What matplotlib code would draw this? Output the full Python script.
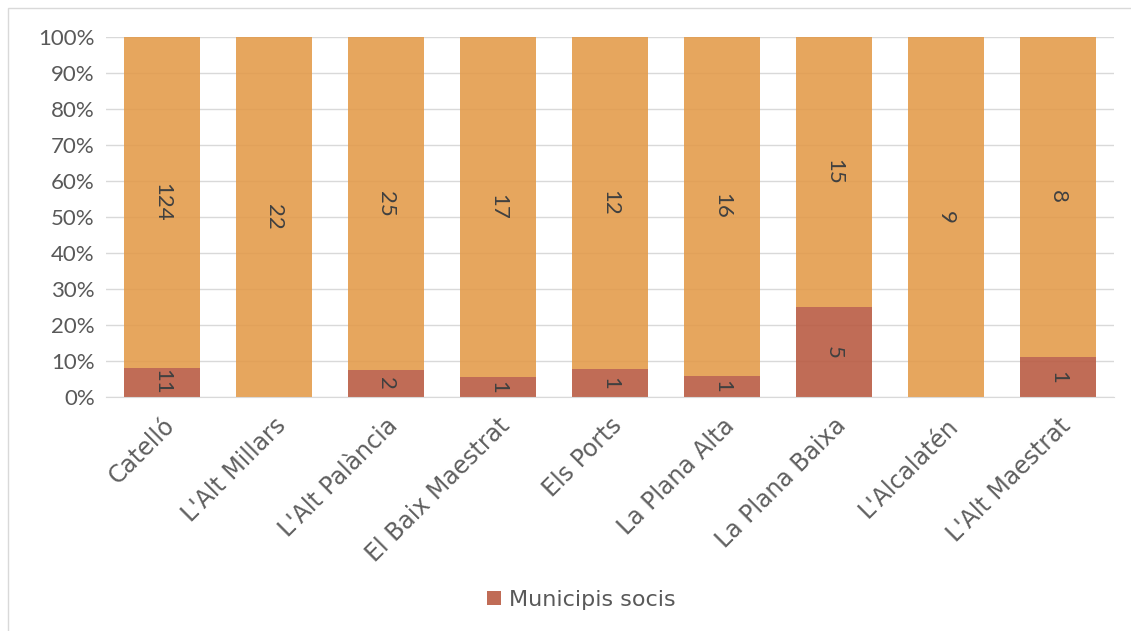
import matplotlib.pyplot as plt
import numpy as np

plt.rcParams['font.family'] = ['Lato', 'DejaVu Sans']

comarques = ['Catelló', "L'Alt Millars", "L'Alt Palància", 'El Baix Maestrat', 'Els Ports',
             'La Plana Alta', 'La Plana Baixa', "L'Alcalatén", "L'Alt Maestrat"]
socis = np.array([11, 0, 2, 1, 1, 1, 5, 0, 1])
no_socis = np.array([124, 22, 25, 17, 12, 16, 15, 9, 8])

total = socis + no_socis
p_socis = socis / total * 100
p_no = no_socis / total * 100

fig = plt.figure(figsize=(11.31, 6.31), dpi=100)
ax = fig.add_axes([106/1131, 1 - 397/631, 1008/1131, 360/631])

x = np.arange(len(comarques))
w = 0.67
b1 = ax.bar(x, p_socis, w, color='#B8583F', alpha=0.88, label='Municipis socis', zorder=2)
b2 = ax.bar(x, p_no, w, bottom=p_socis, color='#E39A48', alpha=0.88, zorder=2)

txt = '#404040'
for i in range(len(x)):
    if socis[i] > 0:
        ax.text(x[i], p_socis[i] / 2, str(socis[i]), rotation=-90, ha='center', va='center',
                fontsize=16, color=txt, zorder=3)
    ax.text(x[i], p_socis[i] + p_no[i] / 2, str(no_socis[i]), rotation=-90, ha='center',
            va='center', fontsize=16, color=txt, zorder=3)

ax.set_xlim(-0.5, len(x) - 0.5)
ax.set_ylim(0, 100)
ax.set_yticks(np.arange(0, 101, 10))
ax.set_yticklabels([f'{v}%' for v in range(0, 101, 10)], fontsize=16, color='#595959')
ax.set_xticks(x)
ax.set_xticklabels(comarques, rotation=45, ha='right', rotation_mode='anchor',
                   fontsize=17, color='#5f5f5f', family='DejaVu Sans')
ax.tick_params(axis='both', length=0, pad=8)
ax.tick_params(axis='x', pad=12)
ax.yaxis.grid(True, color='#D9D9D9', linewidth=1, zorder=1)
ax.set_axisbelow(True)
for s in ['top', 'right', 'left']:
    ax.spines[s].set_visible(False)
ax.spines['bottom'].set_color('#D9D9D9')

leg = fig.legend(handles=[b1], labels=['Municipis socis'], loc='center',
                 bbox_to_anchor=(0.514, 1 - 600/631), frameon=False,
                 prop={'family': 'DejaVu Sans', 'size': 16},
                 handlelength=0.6, handleheight=0.6, handletextpad=0.35)
for t in leg.get_texts():
    t.set_color('#595959')

# chart border
fig.patches.append(plt.Rectangle((8/1131, -0.01), 1.02, 1 - 8/631 + 0.01, transform=fig.transFigure,
                                 fill=False, edgecolor='#D9D9D9', linewidth=1))

fig.savefig('out.png', dpi=100)
